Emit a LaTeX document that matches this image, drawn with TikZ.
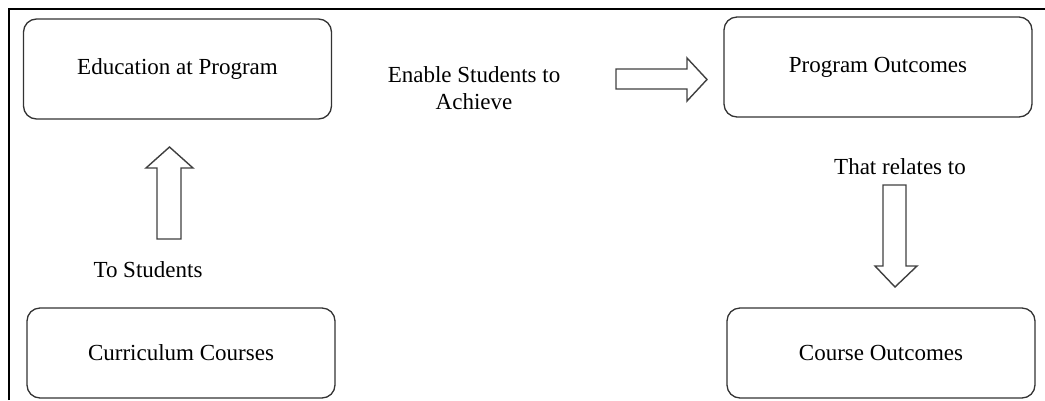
\documentclass[tikz,border=0pt]{standalone}
\usepackage{fontspec}
\setmainfont{Liberation Serif}
\usetikzlibrary{positioning}
\tikzset{
	block/.style={rectangle, draw=black!80, line width=1.3pt, rounded corners=13pt, minimum width=308pt, align=center},
	fatarrow/.style={draw=black!75, line width=1.4pt, line join=miter, fill=white},
	caption/.style={align=center}
}

\begin{document}
\begin{tikzpicture}[
	x=1pt, y=-1pt,
	font=\fontsize{23}{27}\selectfont,
	]
	
	\useasboundingbox (0,0) rectangle (1045,400);
	
	% outer frame (cut off at right and bottom)
	\coordinate (frame_corner) at (9,9);
	\draw[line width=2pt] (frame_corner |- 0,400) -- (frame_corner) -- (1045,9);
	
	% Boxes
	\node[block, minimum height=100pt] (education) at (177.5,69) {Education at Program};
	\node[block, minimum height=100pt] (program_outcomes) at (878,67) {Program Outcomes};
	\node[block, minimum height=90pt] (curriculum) at (181,353) {Curriculum Courses};
	\node[block, minimum height=90pt] (course_outcomes) at (881,353) {Course Outcomes};
	
	% Labels
	\node[caption] (enable_label) at (474,88) {Enable Students to\\Achieve};
	\node[caption] (students_label) at (148,270) {To Students};
	\node[caption] (relates_label) at (900,167) {That relates to};
	
	% Block arrows
	\coordinate (up_tail) at (157,239);
	\draw[fatarrow] (up_tail) -- ++(0,-71) -- ++(-11,0) -- ++(23.5,-21)
		-- ++(23.5,21) -- ++(-12,0) -- ++(0,71) -- cycle;
	
	\coordinate (right_tail) at (616,69);
	\draw[fatarrow] (right_tail) -- ++(71,0) -- ++(0,-11) -- ++(20,21.5)
		-- ++(-20,21.5) -- ++(0,-12) -- ++(-71,0) -- cycle;
	
	\coordinate (down_tail) at (883,185);
	\draw[fatarrow] (down_tail) -- ++(23,0) -- ++(0,81) -- ++(11,0)
		-- ++(-22,21) -- ++(-20,-21) -- ++(8,0) -- cycle;
	
\end{tikzpicture}
\end{document}
